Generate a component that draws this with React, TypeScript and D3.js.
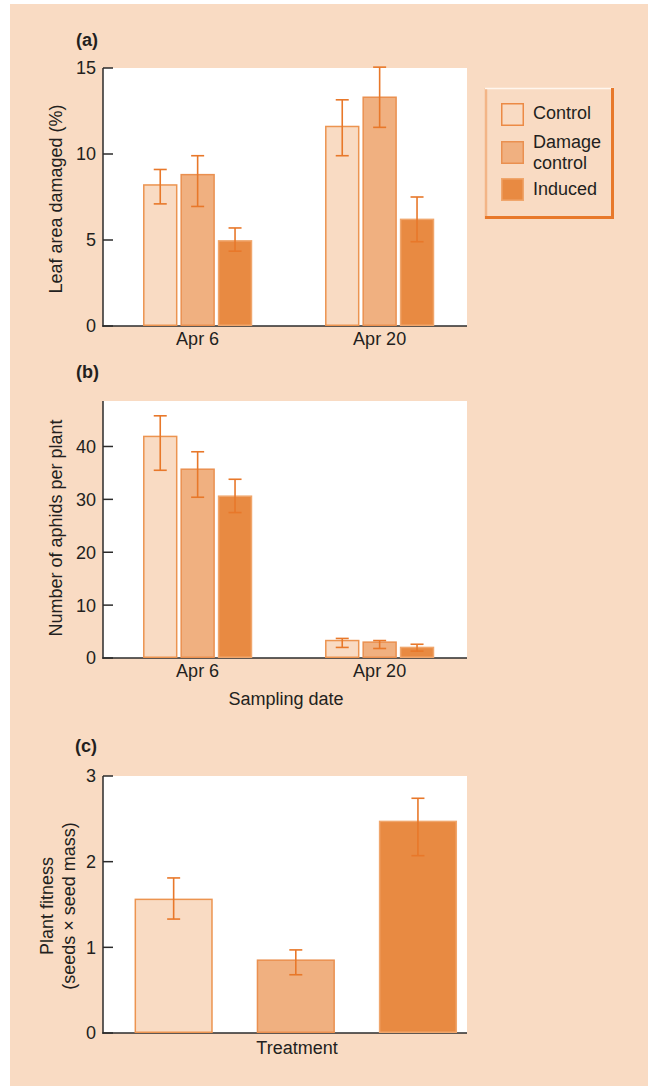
import React from "react";
import * as d3 from "d3";

const series = ["Control", "Damage control", "Induced"];
const dates = ["Apr 6", "Apr 20"];

// (a) Leaf area damaged (%)
const leafMean = [[8.2, 8.8, 4.95], [11.6, 13.3, 6.2]];
const leafLo = [[7.1, 6.95, 4.35], [9.9, 11.55, 4.9]];
const leafHi = [[9.1, 9.9, 5.7], [13.15, 15.05, 7.5]];
const leafTicks = [0, 5, 10, 15];

// (b) Number of aphids per plant
const aphidMean = [[41.9, 35.7, 30.6], [3.3, 3.0, 2.0]];
const aphidLo = [[35.5, 30.4, 27.5], [2.0, 1.8, 1.3]];
const aphidHi = [[45.8, 39.0, 33.8], [3.7, 3.3, 2.6]];
const aphidTicks = [0, 10, 20, 30, 40];

// (c) Plant fitness
const fitMean = [1.56, 0.85, 2.47];
const fitLo = [1.33, 0.68, 2.07];
const fitHi = [1.81, 0.97, 2.74];
const fitTicks = [0, 1, 2, 3];

const BG = "#F9DBC3";
const fills = ["#F9DBC3", "#F0B080", "#E88A42"];
const strokes = ["#EC9450", "#EA9050", "#F0A66C"];
const ERR = "#E8782A";
const AXIS = "#2b2b2b";
const FONT = "'Liberation Sans', Arial, Helvetica, sans-serif";
const TXT = "#231f20";
const FS = 18;

const X0 = 103;
const X1 = 467;

function ErrorBar({ x, yHi, yLo }: { x: number; yHi: number; yLo: number }) {
  const cw = 6.5;
  return (
    <g stroke={ERR} strokeWidth={1.6}>
      <line x1={x} x2={x} y1={yHi} y2={yLo} />
      <line x1={x - cw} x2={x + cw} y1={yHi} y2={yHi} />
      <line x1={x - cw} x2={x + cw} y1={yLo} y2={yLo} />
    </g>
  );
}

function Axes({ y, ticks, top, bottom }: { y: d3.ScaleLinear<number, number>; ticks: number[]; top: number; bottom: number }) {
  return (
    <g>
      <rect x={X0} y={top} width={X1 - X0} height={bottom - top} fill="#ffffff" />
      {ticks.map((t) => (
        <g key={t}>
          <line x1={X0} x2={X0 + 10} y1={y(t)} y2={y(t)} stroke={AXIS} strokeWidth={1.5} />
          <text x={96} y={y(t)} dy="0.36em" textAnchor="end" fontSize={FS} fill={TXT} fontFamily={FONT}>
            {t}
          </text>
        </g>
      ))}
      <line x1={X0} x2={X0} y1={top} y2={bottom + 0.75} stroke={AXIS} strokeWidth={1.5} />
      <line x1={X0 - 0.75} x2={X1} y1={bottom} y2={bottom} stroke={AXIS} strokeWidth={1.5} />
    </g>
  );
}

function GroupedPanel({
  top, bottom, domainMax, ticks, mean, lo, hi,
}: {
  top: number; bottom: number; domainMax: number; ticks: number[];
  mean: number[][]; lo: number[][]; hi: number[][];
}) {
  const y = d3.scaleLinear().domain([0, domainMax]).range([bottom, top]);
  const x0 = d3.scaleBand<string>().domain(dates).range([X0, X1]).paddingInner(0.4).paddingOuter(0.2).align(0.55);
  const x1 = d3.scaleBand<string>().domain(series).range([0, x0.bandwidth()]).paddingInner(0.08);
  return (
    <g>
      <Axes y={y} ticks={ticks} top={top} bottom={bottom} />
      {dates.map((d, di) => (
        <g key={d}>
          {series.map((s, si) => {
            const bx = (x0(d) as number) + (x1(s) as number);
            const bw = x1.bandwidth();
            return (
              <g key={s}>
                <rect x={bx + 0.75} y={y(mean[di][si])} width={bw - 1.5} height={bottom - y(mean[di][si]) - 0.75}
                  fill={fills[si]} stroke={strokes[si]} strokeWidth={1.5} />
                <ErrorBar x={bx + bw / 2} yHi={y(hi[di][si])} yLo={y(lo[di][si])} />
              </g>
            );
          })}
        </g>
      ))}
      {dates.map((d) => (
        <text key={d} x={(x0(d) as number) + x0.bandwidth() / 2} y={bottom + 19} textAnchor="middle"
          fontSize={FS} fill={TXT} fontFamily={FONT}>
          {d}
        </text>
      ))}
    </g>
  );
}

function FitnessPanel({ top, bottom }: { top: number; bottom: number }) {
  const y = d3.scaleLinear().domain([0, 3]).range([bottom, top]);
  const x = d3.scaleBand<string>().domain(series).range([X0, X1]).paddingInner(0.36).paddingOuter(0.17).align(0.76);
  return (
    <g>
      <Axes y={y} ticks={fitTicks} top={top} bottom={bottom} />
      {series.map((s, i) => {
        const bx = x(s) as number;
        const bw = x.bandwidth();
        return (
          <g key={s}>
            <rect x={bx + 0.75} y={y(fitMean[i])} width={bw - 1.5} height={bottom - y(fitMean[i]) - 0.75}
              fill={fills[i]} stroke={strokes[i]} strokeWidth={1.5} />
            <ErrorBar x={bx + bw / 2} yHi={y(fitHi[i])} yLo={y(fitLo[i])} />
          </g>
        );
      })}
    </g>
  );
}

function Legend() {
  const lx = 485, ly = 88, lw = 129, lh = 131;
  const items = [
    { lines: ["Control"], sy: 103, ty: 119 },
    { lines: ["Damage", "control"], sy: 141, ty: 148 },
    { lines: ["Induced"], sy: 178, ty: 195 },
  ];
  return (
    <g>
      <rect x={lx} y={ly} width={lw} height={lh} fill={BG} />
      <line x1={lx + 1} x2={lx + 1} y1={ly} y2={ly + lh} stroke="#F3B587" strokeWidth={2.5} />
      <line x1={lx} x2={lx + lw} y1={ly + 0.5} y2={ly + 0.5} stroke="#FFF6EE" strokeWidth={1.5} />
      <line x1={lx + lw - 1.5} x2={lx + lw - 1.5} y1={ly} y2={ly + lh} stroke="#E8782A" strokeWidth={3} />
      <line x1={lx} x2={lx + lw} y1={ly + lh - 1.5} y2={ly + lh - 1.5} stroke="#E8782A" strokeWidth={3} />
      {items.map((it, i) => (
        <g key={i}>
          <rect x={501.75} y={it.sy + 0.75} width={21.5} height={21.5} fill={fills[i]} stroke={i === 0 ? "#EC8A45" : strokes[i]} strokeWidth={1.5} />
          {it.lines.map((l, j) => (
            <text key={j} x={533} y={it.ty + j * 21} fontSize={FS} fill={TXT} fontFamily={FONT}>
              {l}
            </text>
          ))}
        </g>
      ))}
    </g>
  );
}

export default function App() {
  return (
    <svg width={648} height={1086} style={{ position: "absolute", left: 0, top: 0 }} fontFamily={FONT}>
      <rect x={0} y={0} width={648} height={1086} fill="#ffffff" />
      <rect x={10} y={4} width={638} height={1082} fill={BG} />

      {/* Panel (a) */}
      <text x={76} y={46} fontSize={FS} fontWeight="bold" fill={TXT}>(a)</text>
      <GroupedPanel top={68} bottom={326} domainMax={15} ticks={leafTicks} mean={leafMean} lo={leafLo} hi={leafHi} />
      <text transform="translate(62,199) rotate(-90)" textAnchor="middle" fontSize={FS} fill={TXT}>
        Leaf area damaged (%)
      </text>
      <Legend />

      {/* Panel (b) */}
      <text x={76} y={378} fontSize={FS} fontWeight="bold" fill={TXT}>(b)</text>
      <GroupedPanel top={401} bottom={658} domainMax={48.6} ticks={aphidTicks} mean={aphidMean} lo={aphidLo} hi={aphidHi} />
      <text transform="translate(62,528) rotate(-90)" textAnchor="middle" fontSize={FS} fill={TXT}>
        Number of aphids per plant
      </text>
      <text x={286} y={705} textAnchor="middle" fontSize={FS} fill={TXT}>Sampling date</text>

      {/* Panel (c) */}
      <text x={75} y={752} fontSize={FS} fontWeight="bold" fill={TXT}>(c)</text>
      <FitnessPanel top={776} bottom={1033} />
      <text transform="translate(53,906) rotate(-90)" textAnchor="middle" fontSize={FS} fill={TXT}>
        Plant fitness
      </text>
      <text transform="translate(75,906) rotate(-90)" textAnchor="middle" fontSize={FS} fill={TXT}>
        (seeds × seed mass)
      </text>
      <text x={297} y={1054} textAnchor="middle" fontSize={FS} fill={TXT}>Treatment</text>
    </svg>
  );
}
